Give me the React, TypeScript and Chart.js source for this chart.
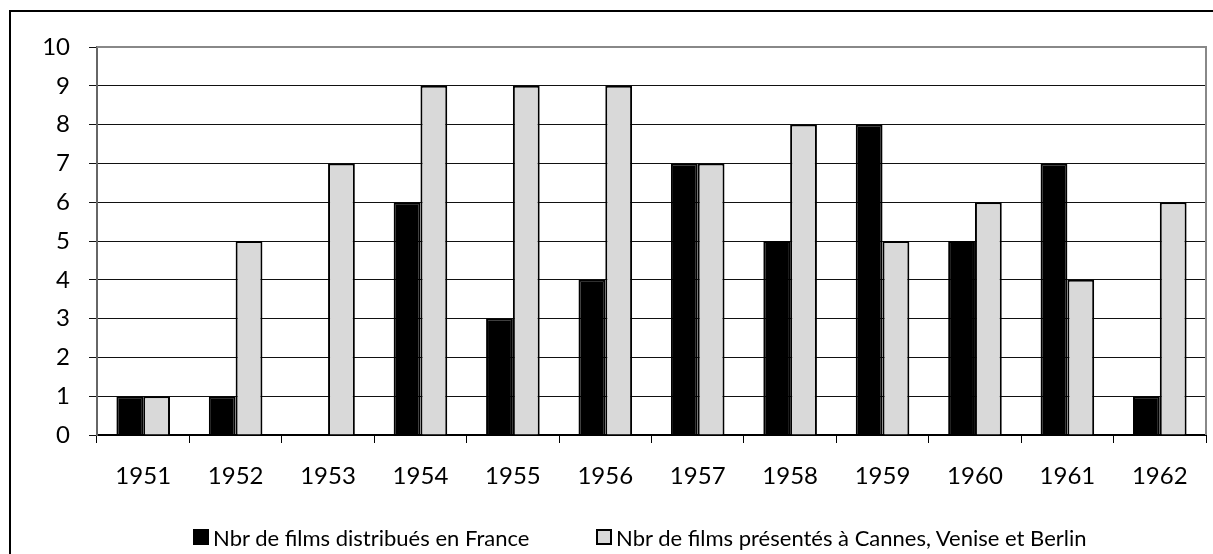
import React, { useEffect, useRef } from "react";
import { Chart, registerables } from "chart.js";

Chart.register(...registerables);

const years = ["1951", "1952", "1953", "1954", "1955", "1956", "1957", "1958", "1959", "1960", "1961", "1962"];
const distribues = [1, 1, 0, 6, 3, 4, 7, 5, 8, 5, 7, 1];
const presentes = [1, 5, 7, 9, 9, 9, 7, 8, 5, 6, 4, 6];
const seriesLabels = ["Nbr de films distribués en France", "Nbr de films présentés à Cannes, Venise et Berlin"];
const seriesColors = ["#000000", "#d9d9d9"];

const FONT = "Lato, 'Open Sans', sans-serif";

export default function App() {
  const ref = useRef<HTMLCanvasElement | null>(null);

  useEffect(() => {
    document.body.style.margin = "0";
    const canvas = ref.current;
    if (!canvas) return;

    const plotFrame = {
      id: "plotFrame",
      beforeDatasetsDraw(chart: any) {
        const { ctx, chartArea } = chart;
        ctx.save();
        ctx.strokeStyle = "#888888";
        ctx.lineWidth = 2;
        ctx.beginPath();
        ctx.moveTo(chartArea.left, chartArea.top);
        ctx.lineTo(chartArea.right, chartArea.top);
        ctx.lineTo(chartArea.right, chartArea.bottom);
        ctx.stroke();
        ctx.restore();
      },
    };

    const chart = new Chart(canvas, {
      type: "bar",
      data: {
        labels: years,
        datasets: [
          {
            label: seriesLabels[0],
            data: distribues,
            backgroundColor: seriesColors[0],
            borderColor: "#000000",
            borderWidth: 2,
            categoryPercentage: 0.58,
            barPercentage: 1.0,
          },
          {
            label: seriesLabels[1],
            data: presentes,
            backgroundColor: seriesColors[1],
            borderColor: "#000000",
            borderWidth: 2,
            categoryPercentage: 0.58,
            barPercentage: 1.0,
          },
        ],
      },
      options: {
        animation: false,
        responsive: false,
        maintainAspectRatio: false,
        layout: { padding: { top: 47, right: 7, left: 0, bottom: 0 } },
        plugins: {
          tooltip: { enabled: false },
          legend: { display: false },
        },
        scales: {
          x: {
            afterFit: (scale: any) => {
              scale.height = 119;
            },
            grid: {
              display: true,
              offset: true,
              drawOnChartArea: false,
              drawTicks: true,
              tickLength: 8,
              color: "#000",
            },
            border: { display: true, color: "#000", width: 2 },
            ticks: { color: "#000", font: { family: FONT, size: 24 }, padding: 19, maxRotation: 0 },
          },
          y: {
            min: 0,
            max: 10,
            afterFit: (scale: any) => {
              scale.width = 97;
            },
            grid: {
              display: true,
              drawTicks: true,
              tickLength: 8,
              color: "#111",
              lineWidth: 1,
            },
            border: { display: true, color: "#666", width: 2 },
            ticks: { stepSize: 1, color: "#000", font: { family: FONT, size: 24 }, padding: 19 },
          },
        },
      },
      plugins: [plotFrame],
    });

    return () => chart.destroy();
  }, []);

  const legendItems = [
    { left: 193, label: seriesLabels[0], color: seriesColors[0] },
    { left: 596, label: seriesLabels[1], color: seriesColors[1] },
  ];

  return (
    <div style={{ position: "relative", width: 1213, height: 554, overflow: "hidden", background: "#fff" }}>
      <canvas ref={ref} width={1213} height={554} style={{ position: "absolute", left: 0, top: 0 }} />
      {legendItems.map((it, i) => (
        <div
          key={i}
          style={{
            position: "absolute",
            left: it.left,
            top: 523,
            height: 28,
            display: "flex",
            alignItems: "center",
            fontFamily: FONT,
            fontSize: 22,
            color: "#000",
            whiteSpace: "nowrap",
          }}
        >
          <span
            style={{
              display: "inline-block",
              width: 12,
              height: 12,
              border: "2px solid #000",
              background: it.color,
              marginRight: 4,
            }}
          />
          <span>{it.label}</span>
        </div>
      ))}
      <div
        style={{
          position: "absolute",
          left: 9,
          top: 10,
          width: 1300,
          height: 700,
          border: "2px solid #000",
          pointerEvents: "none",
        }}
      />
    </div>
  );
}
